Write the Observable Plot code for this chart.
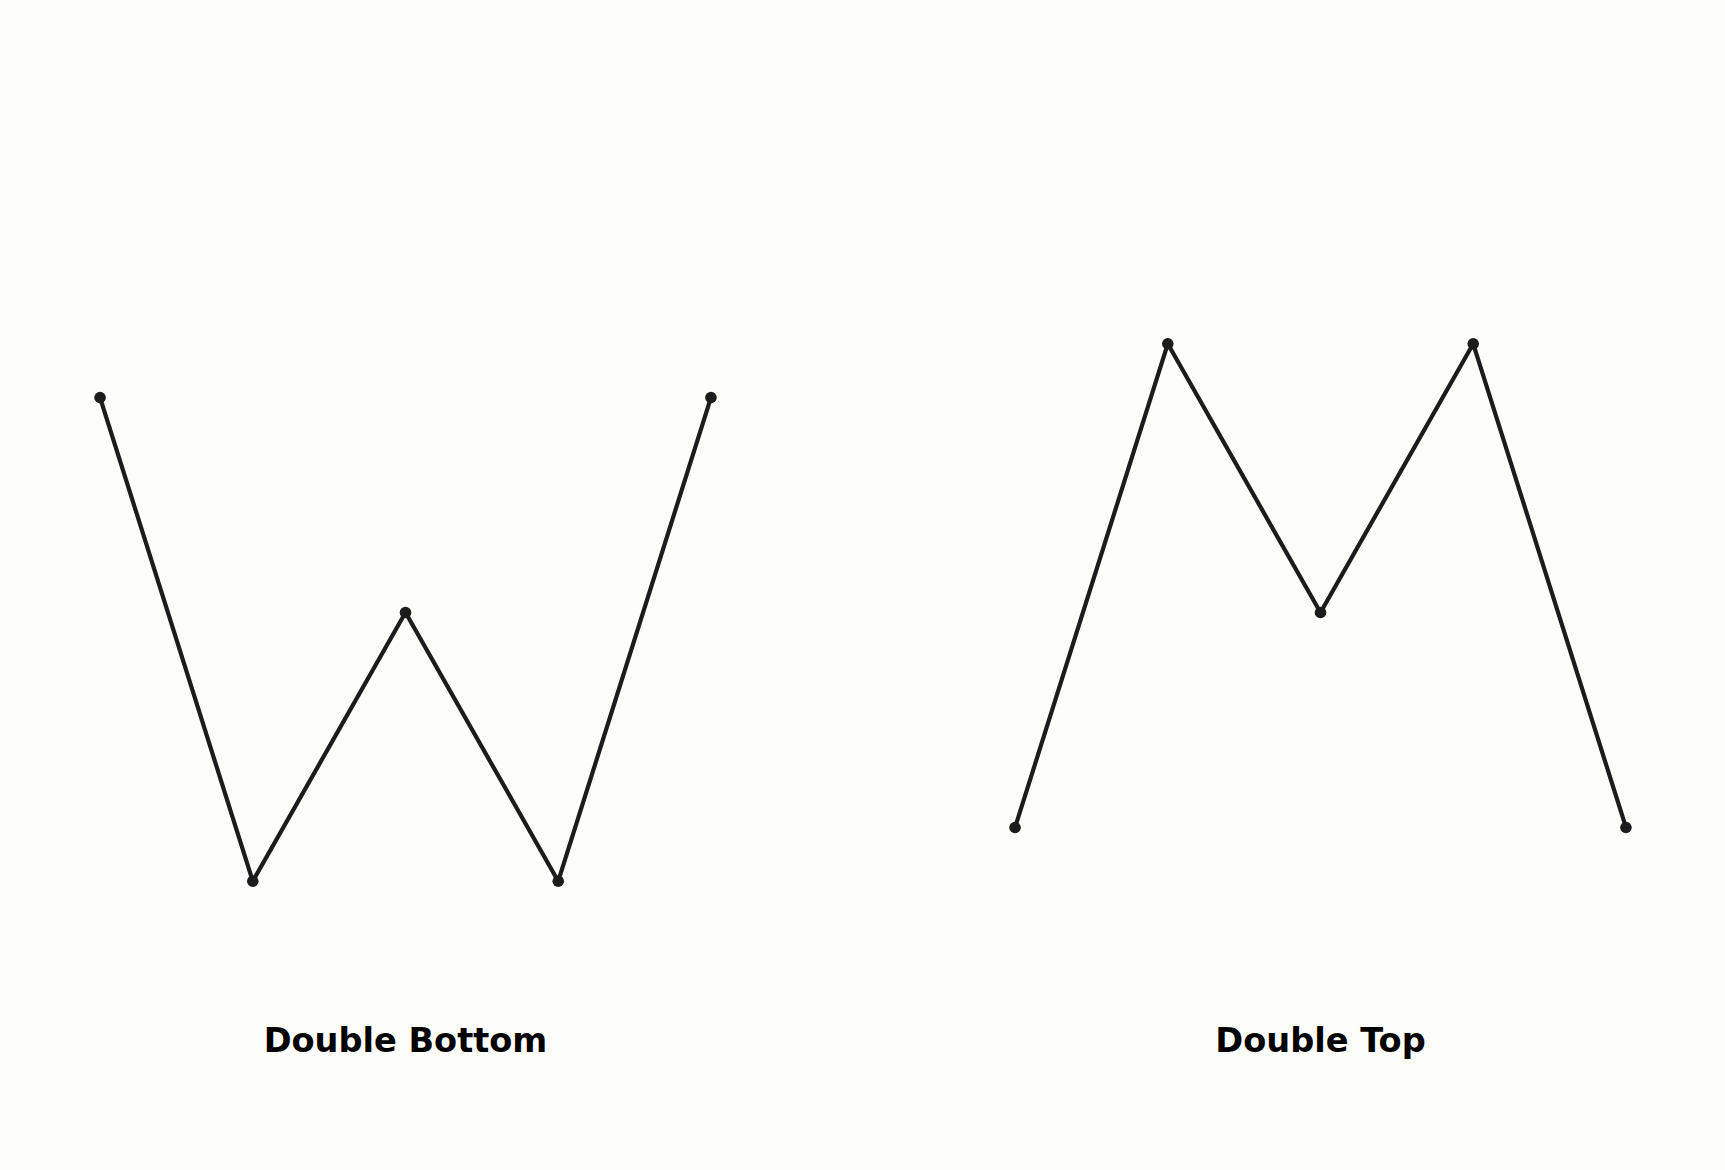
<!DOCTYPE html>
<html>
<head>
<meta charset="utf-8">
<script src="https://cdn.jsdelivr.net/npm/d3@7"></script>
<script src="https://cdn.jsdelivr.net/npm/@observablehq/plot@0.6"></script>
<style>
  html, body { margin: 0; padding: 0; background: #fdfdf9; }
  #chart svg { display: block; }
</style>
</head>
<body>
<div id="chart"></div>
<script>
// Data
const patterns = ["Double Bottom", "Double Top"];
const steps = [0, 1, 2, 3, 4];
const doubleBottom = [9, 0, 5, 0, 9];
const doubleTop = [1, 10, 5, 10, 1];

const rows = [];
steps.forEach((s, i) => rows.push({pattern: patterns[0], step: s, value: doubleBottom[i]}));
steps.forEach((s, i) => rows.push({pattern: patterns[1], step: s, value: doubleTop[i]}));

const ink = "#1c1c1c";

const chart = Plot.plot({
  width: 1725,
  height: 1170,
  marginLeft: 68.2,
  marginRight: 68.7,
  marginTop: 316.4,
  marginBottom: 262.4,
  style: {background: "#fdfdf9", fontFamily: "DejaVu Sans"},
  fx: {domain: patterns, axis: null, paddingInner: 0.2658, paddingOuter: 0},
  x: {domain: [-0.2, 4.2], axis: null},
  y: {domain: [-0.5, 10.5], axis: null},
  marks: [
    Plot.line(rows, {fx: "pattern", x: "step", y: "value", z: "pattern",
      stroke: ink, strokeWidth: 4.2, strokeLinejoin: "round", strokeLinecap: "round"}),
    Plot.dot(rows, {fx: "pattern", x: "step", y: "value", r: 5.8, fill: ink, stroke: "none"}),
    Plot.text(patterns, {fx: d => d, x: () => 2, text: d => d, frameAnchor: "bottom",
      lineAnchor: "bottom", dy: 144, fontSize: 33.6, fontWeight: "bold",
      fontFamily: "DejaVu Sans", fill: "#000"})
  ]
});
document.getElementById("chart").appendChild(chart);
</script>
</body>
</html>
